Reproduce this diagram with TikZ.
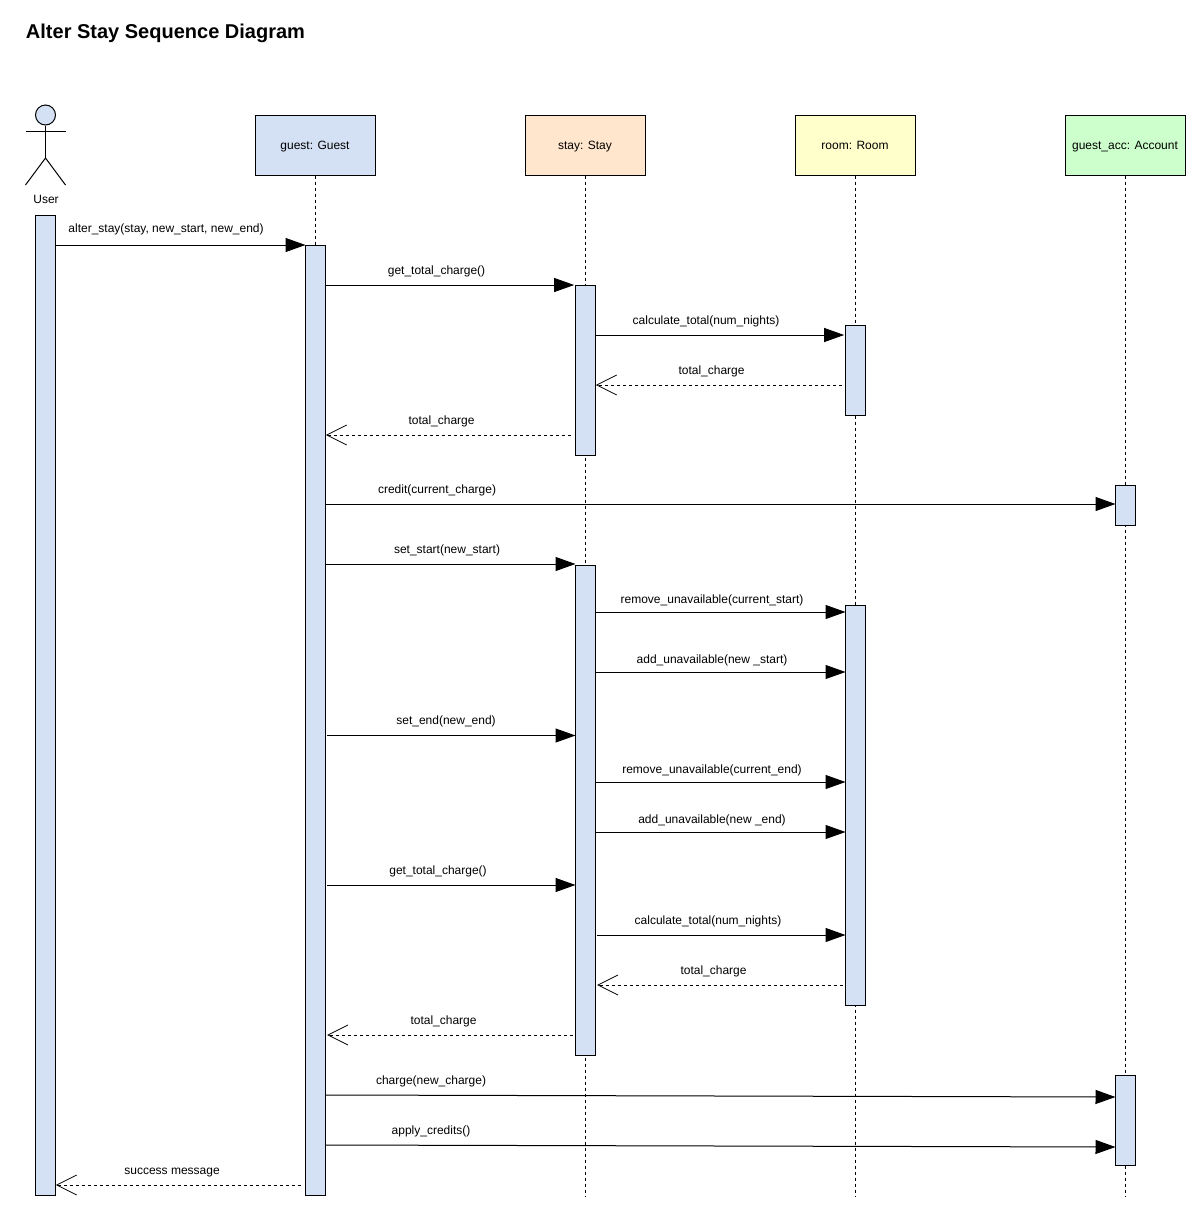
\documentclass[tikz,border=0pt]{standalone}
\usepackage{fontspec}
\setmainfont{Liberation Sans}
\usetikzlibrary{arrows.meta}
\definecolor{fillblue}{HTML}{D4E1F5}
\definecolor{fillpeach}{HTML}{FFE6CC}
\definecolor{fillyellow}{HTML}{FFFFCC}
\definecolor{fillgreen}{HTML}{CCFFCC}
\begin{document}
\begin{tikzpicture}[
  x=0.75pt, y=-0.75pt, line width=0.75pt, font=\fontsize{9pt}{11pt}\selectfont,
  head/.style={draw, minimum width=90pt, minimum height=45pt, inner sep=0pt, text height=8pt, text depth=2pt},
  bar/.style={draw, fill=fillblue, minimum width=15pt, inner sep=0pt},
  life/.style={dash pattern=on 2.25pt off 2.25pt},
  msg/.style={-{Triangle[length=15pt,width=10.5pt]}, shorten >=-0.75pt},
  ret/.style={dash pattern=on 2.25pt off 2.25pt, -{Straight Barb[length=15pt,width=15pt,line width=0.6pt]}, shorten >=-0.75pt},
  lbl/.style={anchor=base, inner sep=0pt, xshift=0.4pt}
]
\useasboundingbox (0,0) rectangle (1201,1221);
\node[anchor=base west, inner sep=0pt, font=\bfseries\fontsize{15pt}{18pt}\selectfont] (title) at (25.5,38) {Alter Stay Sequence Diagram};
% ---------------- actor ----------------
\node[draw, circle, fill=fillblue, minimum size=15pt, inner sep=0pt] (userHead) at (45.5,115) {};
\coordinate (hip) at (45.5,158);
\coordinate (armL) at (25.5,131);
\coordinate (armR) at (65.5,131);
\coordinate (footL) at (25.5,185);
\coordinate (footR) at (65.5,185);
\draw (userHead) -- (hip);
\draw (armL) -- (armR);
\draw (footL) -- (hip) -- (footR);
\node[lbl] (userLbl) at (45.5,203) {User};
% ---------------- lifeline heads ----------------
\node[head, fill=fillblue] (guest) at (315,145) {guest: Guest};
\node[head, fill=fillpeach] (stay) at (585,145) {stay: Stay};
\node[head, fill=fillyellow] (room) at (855,145) {room: Room};
\node[head, fill=fillgreen] (acc) at (1125,145) {guest\_acc: Account};
\coordinate (guestEnd) at (315,1195);
\coordinate (stayEnd) at (585,1196);
\coordinate (roomEnd) at (855,1196);
\coordinate (accEnd) at (1125,1196);
\draw[life] (guest) -- (guestEnd);
\draw[life] (stay) -- (stayEnd);
\draw[life] (room) -- (roomEnd);
\draw[life] (acc) -- (accEnd);
% ---------------- activation bars ----------------
\node[bar, minimum height=735pt] (barUser) at (45,705) {};
\node[bar, minimum height=712.5pt] (barGuest) at (315,720) {};
\node[bar, minimum height=127.5pt] (barStayA) at (585,370) {};
\node[bar, minimum height=367.5pt] (barStayB) at (585,810) {};
\node[bar, minimum height=67.5pt] (barRoomA) at (855,370) {};
\node[bar, minimum height=300pt] (barRoomB) at (855,805) {};
\node[bar, minimum height=30pt] (barAccA) at (1125,505) {};
\node[bar, minimum height=67.5pt] (barAccB) at (1125,1120) {};
% ---------------- first charge ----------------
\draw[msg] (barUser.east |- 0,245) -- (barGuest.west |- 0,245);
\node[lbl] (m1) at (165.5,232) {alter\_stay(stay, new\_start, new\_end)};
\draw[msg] (barGuest.east |- 0,285) -- ([xshift=-1pt]barStayA.west |- 0,285);
\node[lbl] (m2) at (436,274) {get\_total\_charge()};
\draw[msg] (barStayA.east |- 0,335) -- ([xshift=-1pt]barRoomA.west |- 0,335);
\node[lbl] (m3) at (705.5,324) {calculate\_total(num\_nights)};
\draw[ret] ([xshift=-2pt]barRoomA.west |- 0,385) -- ([xshift=1pt]barStayA.east |- 0,385);
\node[lbl] (m4) at (711,374) {total\_charge};
\draw[ret] ([xshift=-3pt]barStayA.west |- 0,435) -- ([xshift=1pt]barGuest.east |- 0,435);
\node[lbl] (m5) at (441,424) {total\_charge};
\draw[msg] (barGuest.east |- 0,504) -- (barAccA.west |- 0,504);
\node[lbl] (m6) at (436.5,493) {credit(current\_charge)};
% ---------------- new dates ----------------
\draw[msg] (barGuest.east |- 0,564) -- (barStayB.west |- 0,564);
\node[lbl] (m7) at (446.5,553) {set\_start(new\_start)};
\draw[msg] (barStayB.east |- 0,612) -- (barRoomB.west |- 0,612);
\node[lbl] (m8) at (711.5,603) {remove\_unavailable(current\_start)};
\draw[msg] ([xshift=0.5pt]barStayB.east |- 0,672) -- (barRoomB.west |- 0,672);
\node[lbl] (m9) at (711.5,663) {add\_unavailable(new \_start)};
\draw[msg] ([xshift=1pt]barGuest.east |- 0,735.5) -- (barStayB.west |- 0,735.5);
\node[lbl] (m10) at (445.5,724) {set\_end(new\_end)};
\draw[msg] ([xshift=0.5pt]barStayB.east |- 0,782) -- (barRoomB.west |- 0,782);
\node[lbl] (m11) at (711.5,773) {remove\_unavailable(current\_end)};
\draw[msg] ([xshift=0.5pt]barStayB.east |- 0,832) -- (barRoomB.west |- 0,832);
\node[lbl] (m12) at (711.5,823) {add\_unavailable(new \_end)};
% ---------------- second charge ----------------
\draw[msg] ([xshift=1pt]barGuest.east |- 0,885) -- (barStayB.west |- 0,885);
\node[lbl] (m13) at (437.5,874) {get\_total\_charge()};
\draw[msg] ([xshift=1pt]barStayB.east |- 0,935) -- (barRoomB.west |- 0,935);
\node[lbl] (m14) at (707.5,924) {calculate\_total(num\_nights)};
\draw[ret] ([xshift=-1.5pt]barRoomB.west |- 0,985) -- ([xshift=2pt]barStayB.east |- 0,985);
\node[lbl] (m15) at (713,974) {total\_charge};
\draw[ret] ([xshift=-1pt]barStayB.west |- 0,1035) -- ([xshift=2pt]barGuest.east |- 0,1035);
\node[lbl] (m16) at (443,1024) {total\_charge};
\draw[msg] (barGuest.east |- 0,1095) -- (barAccB.west |- 0,1097);
\node[lbl] (m17) at (430.5,1084) {charge(new\_charge)};
\draw[msg] (barGuest.east |- 0,1145) -- (barAccB.west |- 0,1147);
\node[lbl] (m18) at (430.5,1134) {apply\_credits()};
\draw[ret] ([xshift=-3pt]barGuest.west |- 0,1185) -- ([xshift=1pt]barUser.east |- 0,1185);
\node[lbl] (m19) at (171.5,1174) {success message};
\end{tikzpicture}
\end{document}
